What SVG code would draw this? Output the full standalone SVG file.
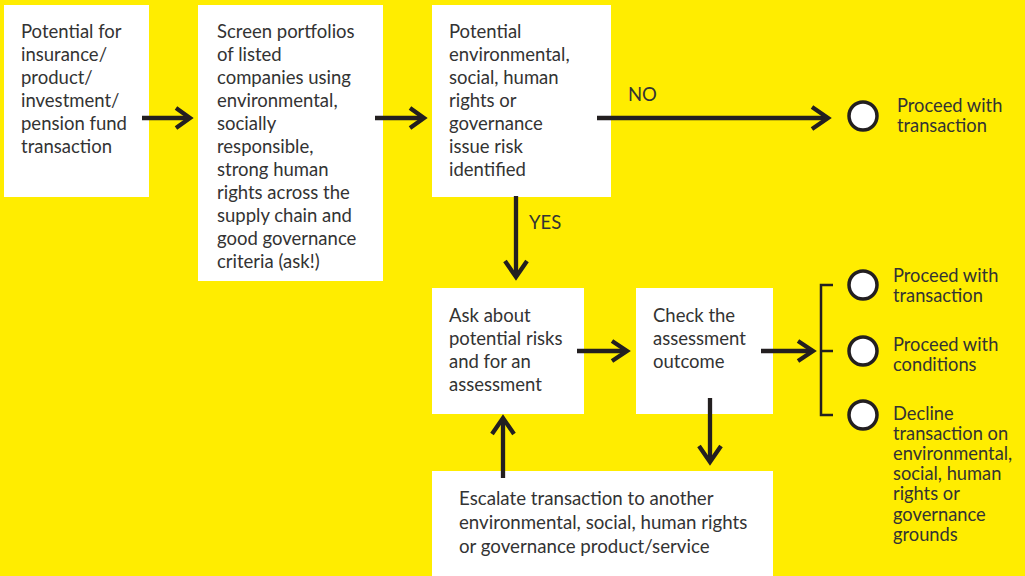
<svg xmlns="http://www.w3.org/2000/svg" width="1025" height="576" viewBox="0 0 1025 576">
<style>
.box{fill:#ffffff}
.t{font-family:Lato,"Liberation Sans",sans-serif;font-size:18.5px;fill:#333333}
.e{font-family:Lato,"Liberation Sans",sans-serif;font-size:18.7px;fill:#333333}
.r{font-family:Lato,"Liberation Sans",sans-serif;font-size:18.3px;fill:#333333}
.ln{stroke:#231f20;stroke-width:4.3;fill:none}
.hd{stroke:#231f20;stroke-width:4.3;fill:none;stroke-linejoin:miter}
.br{stroke:#231f20;stroke-width:2.5;fill:none}
.c{fill:#ffffff;stroke:#231f20;stroke-width:3.5}
</style>
<rect width="1025" height="576" fill="#ffed00"/>
<g id="n1"><rect class="box" x="4" y="5" width="145" height="192"/>
<text class="t"><tspan x="21" y="38">Potential for</tspan><tspan x="21" y="61">insurance/</tspan><tspan x="21" y="84">product/</tspan><tspan x="21" y="107">investment/</tspan><tspan x="21" y="130">pension fund</tspan><tspan x="21" y="153">transaction</tspan></text></g>
<g id="n2"><rect class="box" x="198" y="5" width="185" height="276"/>
<text class="t"><tspan x="217" y="38">Screen portfolios</tspan><tspan x="217" y="61">of listed</tspan><tspan x="217" y="84">companies using</tspan><tspan x="217" y="107">environmental,</tspan><tspan x="217" y="130">socially</tspan><tspan x="217" y="153">responsible,</tspan><tspan x="217" y="176">strong human</tspan><tspan x="217" y="199">rights across the</tspan><tspan x="217" y="222">supply chain and</tspan><tspan x="217" y="245">good governance</tspan><tspan x="217" y="268">criteria (ask!)</tspan></text></g>
<g id="n3"><rect class="box" x="432" y="5" width="179" height="192"/>
<text class="t"><tspan x="449" y="38">Potential</tspan><tspan x="449" y="61">environmental,</tspan><tspan x="449" y="84">social, human</tspan><tspan x="449" y="107">rights or</tspan><tspan x="449" y="130">governance</tspan><tspan x="449" y="153">issue risk</tspan><tspan x="449" y="176">identified</tspan></text></g>
<g id="n4"><rect class="box" x="432" y="288" width="152" height="126"/>
<text class="t"><tspan x="449" y="322">Ask about</tspan><tspan x="449" y="345">potential risks</tspan><tspan x="449" y="368">and for an</tspan><tspan x="449" y="391">assessment</tspan></text></g>
<g id="n5"><rect class="box" x="636" y="288" width="137" height="126"/>
<text class="t"><tspan x="653" y="322">Check the</tspan><tspan x="653" y="345">assessment</tspan><tspan x="653" y="368">outcome</tspan></text></g>
<g id="n6"><rect class="box" x="432" y="471" width="341" height="105"/>
<text class="e"><tspan x="459" y="505">Escalate transaction to another</tspan><tspan x="459" y="529">environmental, social, human rights</tspan><tspan x="459" y="553">or governance product/service</tspan></text></g>
<g id="o1"><circle class="c" cx="863" cy="116" r="14"/>
<text class="r"><tspan x="897" y="112">Proceed with</tspan><tspan x="897" y="132">transaction</tspan></text></g>
<g id="o2"><circle class="c" cx="863" cy="285" r="14"/>
<text class="r"><tspan x="893" y="282">Proceed with</tspan><tspan x="893" y="302">transaction</tspan></text></g>
<g id="o3"><circle class="c" cx="863" cy="351" r="14"/>
<text class="r"><tspan x="893" y="351">Proceed with</tspan><tspan x="893" y="371">conditions</tspan></text></g>
<g id="o4"><circle class="c" cx="863" cy="415" r="14"/>
<text class="r"><tspan x="893" y="420">Decline</tspan><tspan x="893" y="440">transaction on</tspan><tspan x="893" y="460">environmental,</tspan><tspan x="893" y="480">social, human</tspan><tspan x="893" y="500">rights or</tspan><tspan x="893" y="521">governance</tspan><tspan x="893" y="541">grounds</tspan></text></g>
<g id="connectors">
<path class="ln" d="M142 118H188"/><path class="hd" d="M176 108L190 118L176 128"/>
<path class="ln" d="M375 118H422"/><path class="hd" d="M410 108L424 118L410 128"/>
<path class="ln" d="M597 118H826"/><path class="hd" d="M812 107L828 118L812 129"/>
<text class="t" x="628" y="101">NO</text>
<path class="ln" d="M516 196V275"/><path class="hd" d="M505 261L516 277L527 261"/>
<text class="t" x="529" y="229">YES</text>
<path class="ln" d="M577 351H625"/><path class="hd" d="M612 341L627 351L612 361"/>
<path class="ln" d="M761 351H811"/><path class="hd" d="M798 341L813 351L798 361"/>
<path class="br" d="M833 285H821V415H833M821 351H833"/>
<path class="ln" d="M503 478V420"/><path class="hd" d="M492 434L503 418L514 434"/>
<path class="ln" d="M710 398V460"/><path class="hd" d="M699 446L710 462L721 446"/>
</g>
</svg>
